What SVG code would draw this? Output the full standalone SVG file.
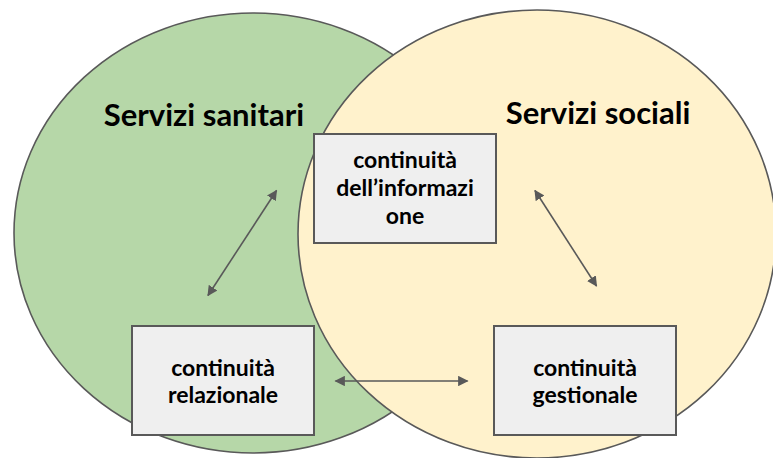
<svg xmlns="http://www.w3.org/2000/svg" width="773" height="458" viewBox="0 0 773 458">
<style>
.circ{stroke:#595959;stroke-width:1.6}
.box{fill:#efefef;stroke:#595959;stroke-width:2}
.title{font-family:Lato,"Open Sans","Liberation Sans",sans-serif;font-weight:bold;font-size:31px;fill:#000;text-anchor:middle}
.lbl{font-family:Lato,"Open Sans","Liberation Sans",sans-serif;font-weight:bold;font-size:23px;fill:#000;text-anchor:middle}
.conn{stroke:#595959;stroke-width:1.6;fill:none;marker-start:url(#ah);marker-end:url(#ah)}
</style>
<defs>
<marker id="ah" viewBox="0 0 10 10" refX="9" refY="5" markerWidth="6.5" markerHeight="6.5" orient="auto-start-reverse" markerUnits="strokeWidth">
<path d="M0,0 L10,5 L0,10 z" fill="#595959"/>
</marker>
</defs>
<g id="servizi-sanitari">
<ellipse class="circ" cx="253" cy="233" rx="239" ry="220" fill="#b6d7a8"/>
<text class="title" x="204" y="126">Servizi sanitari</text>
</g>
<g id="servizi-sociali">
<ellipse class="circ" cx="537" cy="234" rx="239" ry="224" fill="#fff2cc"/>
<text class="title" x="598" y="124">Servizi sociali</text>
</g>
<g id="informazione">
<rect class="box" x="314" y="134" width="182" height="109"/>
<text class="lbl" x="405" y="168">continuità</text>
<text class="lbl" x="405" y="196">dell’informazi</text>
<text class="lbl" x="405" y="224">one</text>
</g>
<g id="relazionale">
<rect class="box" x="132" y="326" width="182" height="109"/>
<text class="lbl" x="223" y="376">continuità</text>
<text class="lbl" x="223" y="403">relazionale</text>
</g>
<g id="gestionale">
<rect class="box" x="494" y="326" width="182" height="109"/>
<text class="lbl" x="585" y="376">continuità</text>
<text class="lbl" x="585" y="403">gestionale</text>
</g>
<g id="connectors">
<line class="conn" x1="208" y1="295.5" x2="276.5" y2="190.5"/>
<line class="conn" x1="535" y1="190.5" x2="596.5" y2="286"/>
<line class="conn" x1="335.5" y1="381" x2="467.5" y2="381"/>
</g>
</svg>
